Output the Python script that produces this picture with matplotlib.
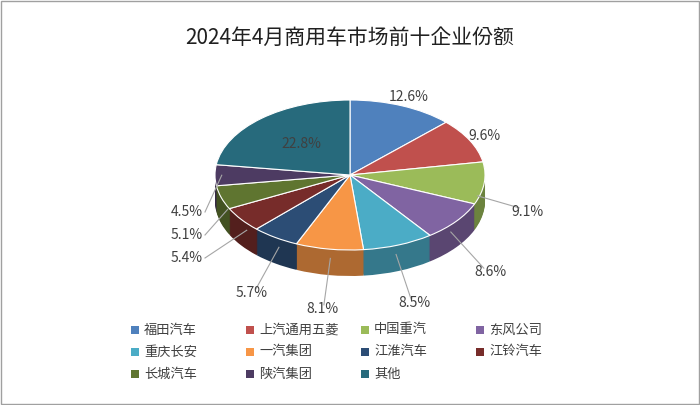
import numpy as np
import matplotlib
matplotlib.use("Agg")
import matplotlib.pyplot as plt
from matplotlib.patches import Wedge, Rectangle
from matplotlib.transforms import Affine2D
import matplotlib.colors as mcolors
from matplotlib import font_manager

# find a CJK font file directly
cjk = None
for f in font_manager.findSystemFonts():
    if "NotoSansCJK" in f.replace(" ", "") or "NotoSansSC" in f:
        cjk = f
        break
if cjk:
    font_manager.fontManager.addfont(cjk)
    fam = font_manager.FontProperties(fname=cjk).get_name()
    plt.rcParams["font.family"] = [fam, "DejaVu Sans"]
else:
    plt.rcParams["font.family"] = ["Noto Sans CJK SC", "DejaVu Sans"]

companies = ["福田汽车", "上汽通用五菱", "中国重汽", "东风公司", "重庆长安", "一汽集团",
             "江淮汽车", "江铃汽车", "长城汽车", "陕汽集团", "其他"]
shares = [12.6, 9.6, 9.1, 8.6, 8.5, 8.1, 5.7, 5.4, 5.1, 4.5, 22.8]
colors = ["#4F81BD", "#C0504D", "#9BBB59", "#8064A2", "#4BACC6", "#F79646",
          "#2C4D75", "#772C2A", "#5F7530", "#4D3B62", "#276A7C"]

fig = plt.figure(figsize=(7, 4.05), dpi=100)
ax = fig.add_axes([0, 0, 1, 1])
ax.set_xlim(0, 700)
ax.set_ylim(405, 0)
ax.axis("off")
ax.add_patch(Rectangle((1, 1), 698, 403, fill=False, ec="#A0A0A0", lw=1))

cx, cy, rx, ry, depth = 350, 175, 135, 75, 26

def dark(c, f=0.7):
    r, g, b = mcolors.to_rgb(c)
    return (r * f, g * f, b * f)

starts = -90 + 360 * np.concatenate([[0], np.cumsum(shares)[:-1]]) / 100
ends = starts + 360 * np.array(shares) / 100

# side walls
for d in range(depth, 0, -1):
    tr = Affine2D().scale(rx, ry).translate(cx, cy + d) + ax.transData
    for t1, t2, c in zip(starts, ends, colors):
        ax.add_patch(Wedge((0, 0), 1, t1, t2, fc=dark(c), ec="none", transform=tr))
# top
tr = Affine2D().scale(rx, ry).translate(cx, cy) + ax.transData
for t1, t2, c in zip(starts, ends, colors):
    ax.add_patch(Wedge((0, 0), 1, t1, t2, fc=c, ec="white", lw=0.8, transform=tr))

# labels
for i, (t1, t2, v) in enumerate(zip(starts, ends, shares)):
    a = np.radians((t1 + t2) / 2)
    ca, sa = np.cos(a), np.sin(a)
    if v > 20:
        ax.text(cx + rx * 0.55 * ca, cy + ry * 0.55 * sa, f"{v}%", ha="center",
                va="center", fontsize=10, color="#404040")
        continue
    off = depth if sa > 0.1 else 0
    k = 1.32 if i >= 2 else 1.12
    lx, ly = cx + rx * k * ca, cy + ry * k * sa + off + (10 if sa > 0.3 else 0)
    if i >= 7:
        lx, ly = 187, 212 + 23 * (9 - i)
    if i >= 2:
        ex, ey = cx + rx * 0.95 * ca, cy + ry * 0.95 * sa + (off if sa > 0.1 else 0) * 0.5
        tx = lx + 18 if i >= 7 else lx - 8 * ca
        ty = ly if i >= 7 else ly - 8 * np.sign(sa) * 0.5
        ax.plot([ex, tx], [ey, ty], color="#A6A6A6", lw=0.8)
    ax.text(lx, ly, f"{v}%", ha="center", va="center", fontsize=10, color="#404040")

ax.text(350, 38, "2024年4月商用车市场前十企业份额", ha="center", va="center",
        fontsize=15, color="#202020")

# legend
xs = [135, 250, 365, 480]
for i, (name, c) in enumerate(zip(companies, colors)):
    x, y = xs[i % 4], 330 + 22 * (i // 4)
    ax.add_patch(Rectangle((x - 4, y - 4), 8, 8, fc=c, ec="none"))
    ax.text(x + 9, y, name, ha="left", va="center", fontsize=9.5, color="#404040")

fig.savefig("out.png", dpi=100)
